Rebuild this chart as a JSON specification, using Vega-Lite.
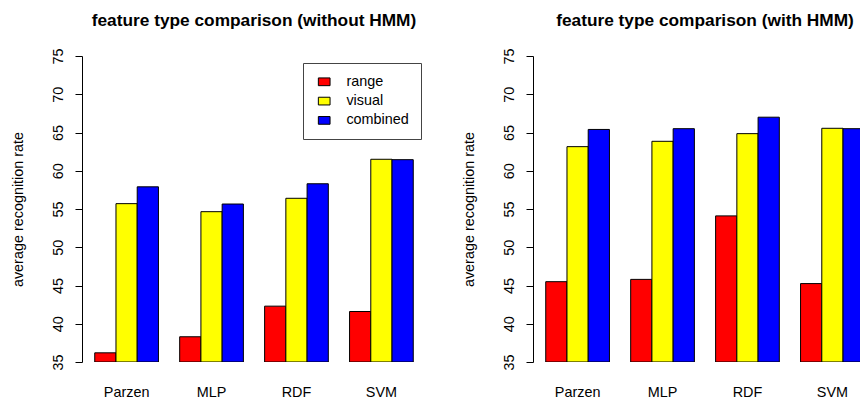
{
  "$schema": "https://vega.github.io/schema/vega-lite/v6.json",
  "background": "white",
  "autosize": {"type": "pad"},
  "padding": {"left": 10, "top": 11, "right": 0, "bottom": 0},
  "bounds": "flush",
  "spacing": 107,
  "config": {
    "view": {"stroke": null},
    "font": "Liberation Sans",
    "axis": {"labelFont": "Liberation Sans", "titleFont": "Liberation Sans", "labelColor": "black", "titleColor": "black", "grid": false}
  },
  "datasets": {
    "without": [
      {"algo": "Parzen", "feature": "range", "value": 36.2},
      {"algo": "Parzen", "feature": "visual", "value": 55.7},
      {"algo": "Parzen", "feature": "combined", "value": 57.9},
      {"algo": "MLP", "feature": "range", "value": 38.3},
      {"algo": "MLP", "feature": "visual", "value": 54.65},
      {"algo": "MLP", "feature": "combined", "value": 55.65},
      {"algo": "RDF", "feature": "range", "value": 42.3},
      {"algo": "RDF", "feature": "visual", "value": 56.4},
      {"algo": "RDF", "feature": "combined", "value": 58.3},
      {"algo": "SVM", "feature": "range", "value": 41.6},
      {"algo": "SVM", "feature": "visual", "value": 61.5},
      {"algo": "SVM", "feature": "combined", "value": 61.45}
    ],
    "with": [
      {"algo": "Parzen", "feature": "range", "value": 45.5},
      {"algo": "Parzen", "feature": "visual", "value": 63.15},
      {"algo": "Parzen", "feature": "combined", "value": 65.4},
      {"algo": "MLP", "feature": "range", "value": 45.8},
      {"algo": "MLP", "feature": "visual", "value": 63.85},
      {"algo": "MLP", "feature": "combined", "value": 65.5},
      {"algo": "RDF", "feature": "range", "value": 54.1},
      {"algo": "RDF", "feature": "visual", "value": 64.85},
      {"algo": "RDF", "feature": "combined", "value": 67.0},
      {"algo": "SVM", "feature": "range", "value": 45.25},
      {"algo": "SVM", "feature": "visual", "value": 65.55},
      {"algo": "SVM", "feature": "combined", "value": 65.5}
    ]
  },
  "resolve": {"legend": {"color": "independent"}},
  "hconcat": [
    {
      "width": 344,
      "height": 306,
      "data": {"name": "without"},
      "title": {"text": "feature type comparison (without HMM)", "fontSize": 17.3, "fontWeight": "bold", "font": "Liberation Sans", "color": "black", "anchor": "middle", "frame": "group", "baseline": "alphabetic", "offset": 5},
      "mark": {"type": "bar", "stroke": "black", "strokeWidth": 1, "clip": true},
      "encoding": {
        "x": {"field": "algo", "type": "nominal", "sort": ["Parzen", "MLP", "RDF", "SVM"],
              "scale": {"paddingInner": 0.25, "paddingOuter": 0.15},
              "axis": {"title": null, "labelAngle": 0, "domain": false, "ticks": false, "tickSize": 0, "labelPadding": 34, "labelBaseline": "alphabetic", "labelFontSize": 14.4}},
        "xOffset": {"field": "feature", "type": "nominal", "sort": ["range", "visual", "combined"], "scale": {"paddingInner": 0, "paddingOuter": 0}},
        "y": {"field": "value", "type": "quantitative", "scale": {"domain": [35, 75], "zero": false, "nice": false},
              "axis": {"title": "average recognition rate", "values": [35, 40, 45, 50, 55, 60, 65, 70, 75], "labelAngle": 270, "labelAlign": "center", "labelBaseline": "alphabetic", "labelPadding": 13, "tickSize": 7, "tickColor": "black", "domainColor": "black", "labelFontSize": 14.4, "titleFontSize": 14.4, "titleFontWeight": "normal", "titleAngle": 270, "titleAlign": "center", "titleBaseline": "alphabetic", "titleX": -60, "titleY": 153}},
        "y2": {"datum": 35},
        "color": {"field": "feature", "type": "nominal", "sort": ["range", "visual", "combined"],
                  "scale": {"domain": ["range", "visual", "combined"], "range": ["#FF0000", "#FFFF00", "#0000FF"]},
                  "legend": {"title": null, "orient": "none", "legendX": 221, "legendY": 7, "padding": 11.6, "symbolOffset": 2.4, "strokeColor": "#444", "fillColor": "white", "symbolType": "M-1,-0.66H1V0.66H-1Z", "symbolSize": 137, "symbolStrokeColor": "black", "symbolStrokeWidth": 1, "symbolOpacity": 1, "labelOffset": 15, "labelFontSize": 14.4, "labelFont": "Liberation Sans", "labelColor": "black", "rowPadding": 4.3}}
      }
    },
    {
      "width": 327,
      "height": 306,
      "data": {"name": "with"},
      "title": {"text": "feature type comparison (with HMM)", "fontSize": 17.3, "fontWeight": "bold", "font": "Liberation Sans", "color": "black", "anchor": "middle", "frame": "group", "baseline": "alphabetic", "offset": 5, "dx": 8.5},
      "mark": {"type": "bar", "stroke": "black", "strokeWidth": 1, "clip": true},
      "encoding": {
        "x": {"field": "algo", "type": "nominal", "sort": ["Parzen", "MLP", "RDF", "SVM"],
              "scale": {"paddingInner": 0.25, "paddingOuter": 0.15, "range": [0, 344]},
              "axis": {"title": null, "labelAngle": 0, "domain": false, "ticks": false, "tickSize": 0, "labelPadding": 34, "labelBaseline": "alphabetic", "labelFontSize": 14.4}},
        "xOffset": {"field": "feature", "type": "nominal", "sort": ["range", "visual", "combined"], "scale": {"paddingInner": 0, "paddingOuter": 0}},
        "y": {"field": "value", "type": "quantitative", "scale": {"domain": [35, 75], "zero": false, "nice": false},
              "axis": {"title": "average recognition rate", "values": [35, 40, 45, 50, 55, 60, 65, 70, 75], "labelAngle": 270, "labelAlign": "center", "labelBaseline": "alphabetic", "labelPadding": 13, "tickSize": 7, "tickColor": "black", "domainColor": "black", "labelFontSize": 14.4, "titleFontSize": 14.4, "titleFontWeight": "normal", "titleAngle": 270, "titleAlign": "center", "titleBaseline": "alphabetic", "titleX": -60, "titleY": 153}},
        "y2": {"datum": 35},
        "color": {"field": "feature", "type": "nominal", "sort": ["range", "visual", "combined"],
                  "scale": {"domain": ["range", "visual", "combined"], "range": ["#FF0000", "#FFFF00", "#0000FF"]},
                  "legend": null}
      }
    }
  ]
}
